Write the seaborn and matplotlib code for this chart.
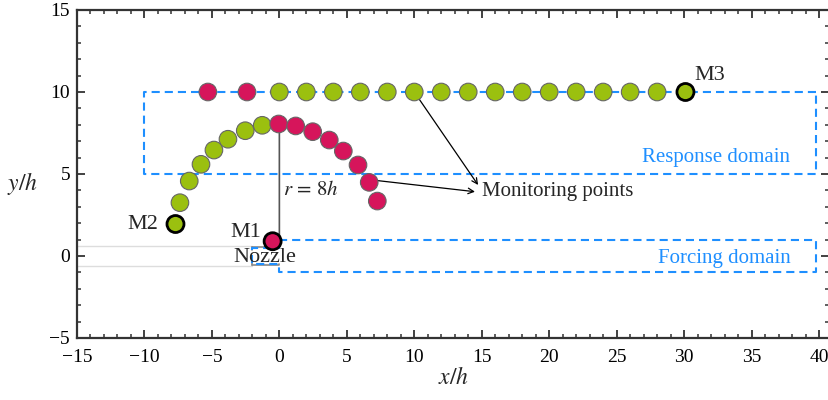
import numpy as np
import pandas as pd
import matplotlib
matplotlib.use("Agg")
import matplotlib.pyplot as plt
from matplotlib.ticker import MultipleLocator
import seaborn as sns

# Monitoring points along the arc (radius 8h around the nozzle exit)
arc_green_x = [-7.37, -6.68, -5.81, -4.85, -3.81, -2.53, -1.27]
arc_green_y = [3.25, 4.57, 5.59, 6.46, 7.12, 7.64, 7.97]
arc_red_x = [-0.05, 1.21, 2.47, 3.70, 4.74, 5.83, 6.66, 7.26]
arc_red_y = [8.05, 7.93, 7.58, 7.07, 6.40, 5.55, 4.49, 3.35]

# Monitoring points along the line y/h = 10
line_red_x = [-5.3, -2.4]
line_green_x = [0, 2, 4, 6, 8, 10, 12, 14, 16, 18, 20, 22, 24, 26, 28]
line_y = 10

# Labelled probes
probe_names = ["M1", "M2", "M3"]
probe_x = [-0.5, -7.7, 30.1]
probe_y = [0.9, 1.95, 10.0]
probe_group = ["red", "green", "green"]

GREEN = "#9BC00F"
RED = "#D6155B"
BLUE = "#1E8FFF"

sns.set_style("ticks")
plt.rcParams["font.family"] = ["Liberation Serif", "DejaVu Serif"]
plt.rcParams["mathtext.fontset"] = "stix"

fig = plt.figure(figsize=(8.29, 4.0), dpi=100)
ax = fig.add_axes([77 / 829, 62 / 400, (829 - 77) / 829, (338 - 10) / 400])

# Domain outlines
dash = (0, (3.9, 2.4))
resp_x = [39.8, -10, -10, 39.8, 39.8]
resp_y = [10, 10, 5, 5, 10]
ax.plot(resp_x, resp_y, color=BLUE, lw=1.5, ls=dash, zorder=1)
force_x = [0, 39.8, 39.8, 0, 0, -2, -2, 0, 0]
force_y = [1, 1, -1, -1, -0.5, -0.5, 0.5, 0.5, 1]
ax.plot(force_x, force_y, color=BLUE, lw=1.5, ls=dash, zorder=1)

# Nozzle walls
ax.plot([-15, -2], [0.62, 0.62], color="#dddddd", lw=1.0, zorder=0)
ax.plot([-15, -2], [-0.62, -0.62], color="#dddddd", lw=1.0, zorder=0)
ax.plot([-2, 0, 0], [0.55, 0.55, 0.5], color="#888888", lw=1.2, zorder=0.5)
ax.plot([-2, 0, 0], [-0.55, -0.55, -0.5], color="#888888", lw=1.2, zorder=0.5)
ax.plot([-2, -2], [0.55, 0.35], color="#888888", lw=1.2, zorder=0.5)
ax.plot([-2, -2], [-0.55, -0.35], color="#888888", lw=1.2, zorder=0.5)

# Radius arrow
ax.annotate("", xy=(0, 8.2), xytext=(0, 1.0),
            arrowprops=dict(arrowstyle="-|>", color="#555555", lw=1.2,
                            mutation_scale=12, shrinkA=0, shrinkB=0), zorder=2)
ax.text(0.27, 4.0, r"$r\,=\,8h$", fontsize=15, va="center", ha="left")

pts = pd.DataFrame({
    "x": arc_green_x + arc_red_x + line_red_x + line_green_x,
    "y": arc_green_y + arc_red_y + [line_y] * (len(line_red_x) + len(line_green_x)),
    "group": (["green"] * len(arc_green_x) + ["red"] * len(arc_red_x)
              + ["red"] * len(line_red_x) + ["green"] * len(line_green_x)),
})
palette = {"green": GREEN, "red": RED}
sns.scatterplot(data=pts, x="x", y="y", hue="group", palette=palette, s=160,
                edgecolor="#666666", linewidth=0.8, legend=False, ax=ax, zorder=3)

probes = pd.DataFrame({"x": probe_x, "y": probe_y, "group": probe_group})
sns.scatterplot(data=probes, x="x", y="y", hue="group", palette=palette, s=150,
                edgecolor="black", linewidth=2.0, legend=False, ax=ax, zorder=4)

# Labels
ax.text(-2.48, 1.46, "M1", fontsize=16, ha="center", va="center")
ax.text(-10.1, 1.95, "M2", fontsize=16, ha="center", va="center")
ax.text(31.9, 11.0, "M3", fontsize=16, ha="center", va="center")
ax.text(-1.07, -0.12, "Nozzle", fontsize=16, ha="center", va="center", zorder=5)

ax.text(15.0, 3.92, "Monitoring points", fontsize=15, ha="left", va="center")
ax.annotate("", xy=(14.73, 4.33), xytext=(10.0, 10.0),
            arrowprops=dict(arrowstyle="->", color="black", lw=0.9,
                            shrinkA=0, shrinkB=0), zorder=2)
ax.annotate("", xy=(14.5, 3.92), xytext=(6.93, 4.63),
            arrowprops=dict(arrowstyle="->", color="black", lw=0.9,
                            shrinkA=0, shrinkB=0), zorder=2)

ax.text(32.4, 6.02, "Response domain", fontsize=15, color=BLUE, ha="center", va="center")
ax.text(32.96, -0.14, "Forcing domain", fontsize=15, color=BLUE, ha="center", va="center")

# Axes styling
ax.set_xlim(-15, 40.74)
ax.set_ylim(-5, 15)
ax.set_xticks(np.arange(-15, 41, 5))
ax.set_yticks(np.arange(-5, 16, 5))
ax.xaxis.set_minor_locator(MultipleLocator(1))
ax.yaxis.set_minor_locator(MultipleLocator(1))
ax.tick_params(which="both", direction="in", top=True, right=True,
               colors="#333333", labelcolor="black", labelsize=14)
ax.tick_params(axis="x", which="major", pad=8)
ax.tick_params(axis="y", which="major", pad=5)
ax.tick_params(which="major", length=6, width=1.3)
ax.tick_params(which="minor", length=3, width=1.1)
for side in ["left", "bottom", "top"]:
    ax.spines[side].set_color("#333333")
    ax.spines[side].set_linewidth(1.6)
ax.spines["right"].set_visible(False)

ax.set_xlabel(r"$x/h$", fontsize=17, va="center")
ax.set_ylabel(r"$y/h$", fontsize=17, rotation=0, va="center", ha="center")
ax.xaxis.set_label_coords(0.5, -0.122)
ax.yaxis.set_label_coords(-0.072, 0.47)

fig.savefig("out.png", dpi=100)
